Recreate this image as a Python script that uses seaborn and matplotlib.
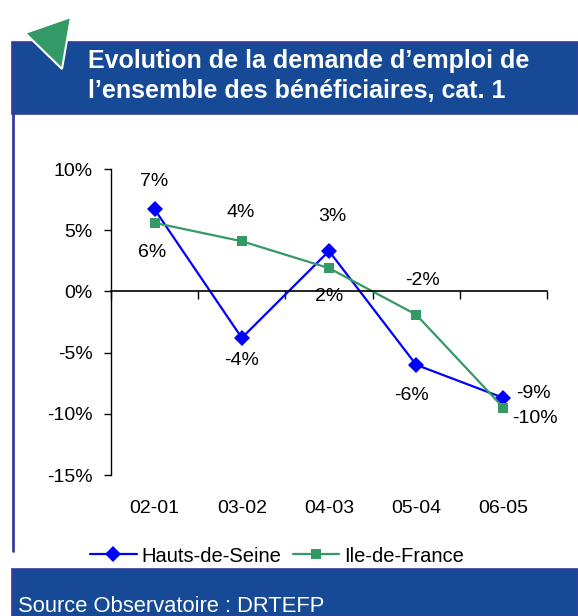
import matplotlib
matplotlib.use("Agg")
import matplotlib.pyplot as plt
import seaborn as sns
import pandas as pd
from matplotlib.patches import Rectangle, Polygon
from matplotlib.lines import Line2D

categories = ["02-01", "03-02", "04-03", "05-04", "06-05"]
hds_values = [6.7, -3.8, 3.3, -6.0, -8.7]
idf_values = [5.6, 4.1, 1.9, -1.9, -9.5]
hds_labels = ["7%", "-4%", "3%", "-6%", "-9%"]
idf_labels = ["6%", "4%", "2%", "-2%", "-10%"]
y_ticks = [10, 5, 0, -5, -10, -15]
y_tick_labels = ["10%", "5%", "0%", "-5%", "-10%", "-15%"]
series_names = ["Hauts-de-Seine", "Ile-de-France"]
title_lines = ["Evolution de la demande d\u2019emploi de",
               "l\u2019ensemble des bénéficiaires, cat. 1"]
source_text = "Source Observatoire : DRTEFP"

BLUE = "#0000FF"
GREEN = "#339966"
BAND = "#174A96"
EDGE = "#3A3A9A"

sns.set_theme(style="white")
plt.rcParams["font.family"] = ["Liberation Sans", "DejaVu Sans"]

W, H = 578, 616
fig = plt.figure(figsize=(W / 100, H / 100), dpi=100)

def fx(px):
    return px / W

def fy(py):
    return 1 - py / H

# Decorations
fig.patches.append(Rectangle((fx(12), fy(114)), 1 - fx(12), fy(42) - fy(114),
                             transform=fig.transFigure, facecolor=BAND,
                             edgecolor=EDGE, linewidth=1.2, zorder=1))
fig.patches.append(Rectangle((fx(12), 0), 1 - fx(12), fy(569),
                             transform=fig.transFigure, facecolor=BAND,
                             edgecolor=EDGE, linewidth=1.2, zorder=1))
fig.lines.append(Line2D([fx(13), fx(13)], [fy(114), fy(551)], transform=fig.transFigure,
                        color=EDGE, linewidth=2))
fig.patches.append(Polygon([(fx(25), fy(33)), (fx(71), fy(17)), (fx(62), fy(69))],
                           closed=True, transform=fig.transFigure, facecolor=GREEN,
                           edgecolor="white", linewidth=1.5, zorder=3))
for line, ypx in zip(title_lines, [68, 98]):
    fig.text(fx(88), fy(ypx), line, color="white", fontsize=18, fontweight="bold",
             va="baseline", ha="left", zorder=4)
fig.text(fx(18), fy(607), source_text, color="white", fontsize=15.8, va="center", ha="left")

# Axes
ax = fig.add_axes([fx(111), fy(475), fx(547) - fx(111), fy(169) - fy(475)])
df = pd.DataFrame({
    "x": list(range(len(categories))) * 2,
    "value": hds_values + idf_values,
    "series": [series_names[0]] * len(categories) + [series_names[1]] * len(categories),
})
sns.lineplot(data=df[df.series == series_names[0]], x="x", y="value", color=BLUE,
             marker="D", markersize=8, linewidth=1.6, markeredgewidth=0, ax=ax,
             legend=False)
sns.lineplot(data=df[df.series == series_names[1]], x="x", y="value", color=GREEN,
             marker="s", markersize=7.5, linewidth=1.6, markeredgewidth=0, ax=ax,
             legend=False)

ax.set_xlim(-0.5, len(categories) - 0.5)
ax.set_ylim(-15, 10)
ax.set_xlabel("")
ax.set_ylabel("")
for s in ["top", "right"]:
    ax.spines[s].set_visible(False)
ax.spines["left"].set_color("black")
ax.spines["left"].set_linewidth(1)
ax.spines["bottom"].set_position(("data", 0))
ax.spines["bottom"].set_color("black")
ax.spines["bottom"].set_linewidth(1.2)
ax.set_xticks([i - 0.5 for i in range(len(categories) + 1)])
ax.set_xticklabels([])
ax.tick_params(axis="x", direction="out", length=6, width=1, color="black", bottom=True)
ax.set_yticks(y_ticks)
ax.set_yticklabels(y_tick_labels)
ax.tick_params(axis="y", direction="out", length=5, width=1, color="black", left=True,
               labelsize=14, pad=8, labelcolor="black")

sec = ax.secondary_xaxis(0)
sec.set_xticks(range(len(categories)))
sec.set_xticklabels(categories)
sec.tick_params(length=0, labelsize=14, pad=18, labelcolor="black")
sec.spines["bottom"].set_visible(False)

hds_off = [(0, 28, "center"), (0, -23, "center"), (3, 35, "center"), (-5, -31, "center"), (13, 4, "left")]
idf_off = [(-2, -30, "center"), (-1, 29, "center"), (0, -28, "center"), (6, 34, "center"), (9, -11, "left")]
for i, (v, lab) in enumerate(zip(hds_values, hds_labels)):
    dx, dy, ha = hds_off[i]
    ax.annotate(lab, (i, v), xytext=(dx, dy), textcoords="offset pixels",
                ha=ha, va="center", fontsize=14, color="black")
for i, (v, lab) in enumerate(zip(idf_values, idf_labels)):
    dx, dy, ha = idf_off[i]
    ax.annotate(lab, (i, v), xytext=(dx, dy), textcoords="offset pixels",
                ha=ha, va="center", fontsize=14, color="black")

handles = [Line2D([], [], color=BLUE, marker="D", markersize=8, markeredgewidth=0, linewidth=1.6),
           Line2D([], [], color=GREEN, marker="s", markersize=7.5, markeredgewidth=0, linewidth=1.6)]
fig.legend(handles, series_names, loc="center", bbox_to_anchor=(fx(277), fy(556)),
           ncol=2, frameon=False, fontsize=14.5, handlelength=2.3, handletextpad=0.25,
           columnspacing=0.55, labelcolor="black")

fig.savefig("out.png", dpi=100)
